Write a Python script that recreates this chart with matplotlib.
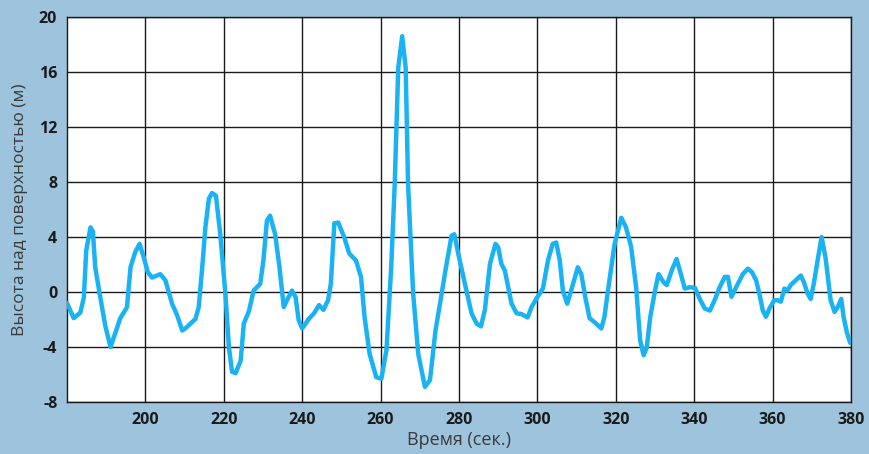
import matplotlib.pyplot as plt

plt.rcParams.update({'font.family': ['Open Sans', 'DejaVu Sans'], 'font.size': 11,
                     'axes.unicode_minus': False})

BG = '#9dc3dd'
LINE = '#19b2f3'

time_s = [180, 181.7, 183.4, 184.3, 184.9, 186.0, 186.6, 187.2, 188.5, 189.8,
          191.1, 192.3, 193.6, 195.3, 196.2, 197.4, 198.5, 199.6, 200.6, 201.7,
          203.8, 205.1, 206.8, 208.1, 209.4, 210.2, 211.5, 212.8, 213.6, 214.5,
          215.3, 216.2, 217.0, 218.0, 219.1, 220.4, 221.3, 222.1, 223.0, 224.3,
          225.1, 226.4, 227.6, 229.3, 230.1, 231.0, 231.8, 233.1, 234.2, 235.3,
          236.1, 237.4, 238.3, 239.1, 240.0, 241.7, 243.0, 244.3, 245.4, 246.6,
          247.3, 248.2, 249.2, 250.7, 252.0, 253.7, 255.0, 255.9, 257.2, 258.9,
          260.2, 261.5, 262.7, 263.6, 264.5, 265.5, 266.4, 267.0, 268.3, 269.6,
          271.3, 272.6, 274.0, 275.3, 276.5, 278.1, 278.8, 279.8, 281.5, 283.2,
          284.5, 285.6, 286.6, 287.9, 289.3, 290.0, 290.8, 291.7, 293.4, 294.7,
          295.9, 297.5, 298.5, 299.7, 301.4, 302.7, 303.9, 304.8, 305.7, 306.5,
          307.6, 308.6, 310.3, 311.2, 312.2, 313.3, 315.0, 316.3, 317.1, 318.0,
          319.7, 321.4, 322.6, 323.9, 325.2, 326.2, 327.1, 327.9, 328.8, 330.0,
          330.9, 332.2, 333.0, 334.3, 335.5, 336.6, 337.6, 338.9, 340.2, 341.4,
          342.7, 344.0, 345.2, 346.5, 347.8, 348.6, 349.5, 350.7, 352.4, 353.7,
          354.7, 355.8, 356.6, 357.5, 358.3, 359.2, 360.4, 361.3, 362.1, 363.0,
          363.8, 364.6, 365.9, 367.2, 368.0, 368.9, 369.7, 370.5, 371.6, 372.5,
          373.5, 374.8, 375.8, 376.6, 377.5, 378.1, 379.0, 379.8]

height_m = [-0.8, -1.9, -1.5, -0.4, 3.0, 4.7, 4.4, 1.8, -0.4, -2.5,
            -4.0, -3.0, -1.9, -1.1, 1.8, 2.9, 3.5, 2.5, 1.45, 1.05,
            1.3, 0.85, -0.85, -1.7, -2.8, -2.65, -2.3, -1.95, -1.1, 1.8,
            4.7, 6.8, 7.2, 7.0, 4.2, -0.1, -4.0, -5.8, -5.9, -5.0,
            -2.3, -1.4, 0.1, 0.6, 2.3, 5.2, 5.55, 4.2, 1.8, -1.1,
            -0.6, 0.1, -0.35, -2.05, -2.65, -1.95, -1.55, -0.95, -1.3, -0.6,
            0.6, 5.0, 5.05, 4.0, 2.8, 2.3, 1.1, -1.8, -4.5, -6.2,
            -6.3, -4.2, 1.8, 7.85, 16.3, 18.6, 16.3, 7.85, -0.1, -4.5,
            -6.9, -6.4, -2.8, -0.6, 1.5, 4.1, 4.2, 2.8, 0.6, -1.55,
            -2.3, -2.5, -1.3, 2.05, 3.5, 3.25, 2.05, 1.55, -0.85, -1.55,
            -1.6, -1.85, -1.1, -0.5, 0.25, 2.3, 3.5, 3.6, 2.3, 0.1,
            -0.85, 0.1, 1.8, 1.3, -0.35, -1.9, -2.3, -2.65, -1.8, 0.1,
            3.5, 5.4, 4.7, 3.3, 0.3, -3.5, -4.6, -4.0, -1.8, 0.1,
            1.3, 0.7, 0.5, 1.6, 2.4, 1.3, 0.25, 0.35, 0.3, -0.5,
            -1.2, -1.35, -0.6, 0.35, 1.1, 1.1, -0.35, 0.35, 1.3, 1.7,
            1.45, 0.85, -0.1, -1.35, -1.8, -1.2, -0.6, -0.6, -0.7, 0.25,
            0.1, 0.5, 0.85, 1.2, 0.7, -0.1, -0.5, 0.6, 2.5, 4.0,
            2.5, -0.6, -1.45, -1.1, -0.5, -1.8, -3.0, -3.7]

x_ticks = list(range(200, 381, 20))
y_ticks = list(range(-8, 21, 4))

fig = plt.figure(figsize=(8.69, 4.54), dpi=100, facecolor=BG)
ax = fig.add_axes([0.0771, 0.1145, 0.9022, 0.8481])
ax.set_facecolor('white')

ax.plot(time_s, height_m, color=LINE, linewidth=3.2,
        solid_joinstyle='round', solid_capstyle='round', zorder=3)

ax.set_xlim(180, 380)
ax.set_ylim(-8, 20)
ax.set_xticks(x_ticks)
ax.set_yticks(y_ticks)
ax.grid(True, color='#1a1a1a', linewidth=1.0)
ax.set_axisbelow(True)
ax.tick_params(length=0, pad=7, labelsize=11.5, labelcolor='#1a1a1a')
for lbl in ax.get_xticklabels() + ax.get_yticklabels():
    lbl.set_fontweight('bold')
for s in ax.spines.values():
    s.set_color('#1a1a1a')
    s.set_linewidth(1.0)

ax.set_xlabel('Время (сек.)', fontsize=13, color='#3a3a3a', labelpad=2)
ax.set_ylabel('Высота над поверхностью (м)', fontsize=12.5, color='#3a3a3a', labelpad=8)

plt.savefig('out.png', dpi=100, facecolor=BG)
